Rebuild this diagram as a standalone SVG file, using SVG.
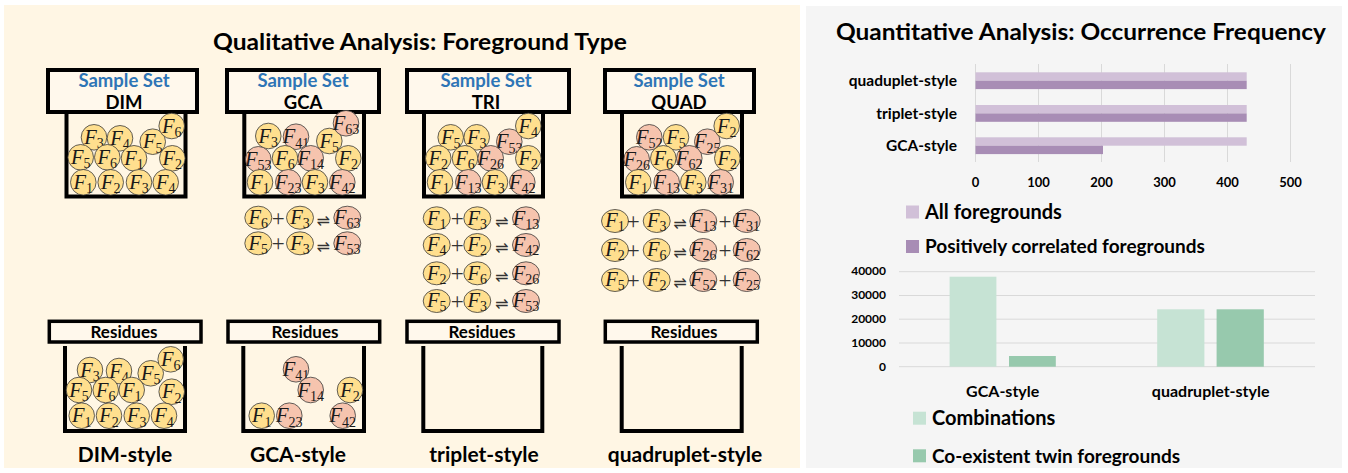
<svg xmlns="http://www.w3.org/2000/svg" width="1348" height="473" viewBox="0 0 1348 473">
  <style>
    .panelL { fill: #FFF6E4; }
    .panelR { fill: #F5F5F5; }
    .lid { fill: #FFF8EC; stroke: #000; stroke-width: 4; }
    .rlid { fill: #FFF8EC; stroke: #000; stroke-width: 3.5; }
    .bucket { fill: none; stroke: #000; stroke-width: 4; stroke-linejoin: miter; }
    .y { fill: #FFDF8E; stroke: #3a3a3a; stroke-width: 0.8; }
    .p { fill: #F6C4AE; stroke: #3a3a3a; stroke-width: 0.8; }
    .f { font-family: "Liberation Serif", "DejaVu Serif", serif; font-size: 20.5px; font-style: italic; text-anchor: middle; fill: #1a1a1a; }
    .s { font-size: 14px; font-style: normal; }
    .op { font-family: "Liberation Serif", serif; font-size: 23px; text-anchor: middle; fill: #333; }
    .rx { font-family: "DejaVu Sans", sans-serif; font-size: 16px; text-anchor: middle; fill: #333; }
    .t { font-family: Lato, "Liberation Sans", sans-serif; font-weight: bold; fill: #000; }
    .mid { text-anchor: middle; }
    .end { text-anchor: end; }
    .blue { fill: #2E75B6; }
    .grid { stroke: #D9D9D9; stroke-width: 1; }
    .pl { fill: #D1C0D8; }
    .pd { fill: #A88DB5; }
    .gl { fill: #C6E3D4; }
    .gd { fill: #97C9AD; }
  </style>

  <!-- panels -->
  <rect class="panelL" x="4" y="5" width="796" height="463"/>
  <rect class="panelR" x="806" y="6" width="536" height="462"/>

  <text class="t mid" x="420" y="50" font-size="22" textLength="414" lengthAdjust="spacingAndGlyphs">Qualitative Analysis: Foreground Type</text>

  <!-- ===== DIM sample set ===== -->
  <g id="dim-sample">
    <path class="bucket" d="M66.5 114 V196.5 H185.5 V114"/>
    <rect class="lid" x="48" y="70" width="149" height="42"/>
    <text class="t mid blue" x="124" y="87" font-size="18.5">Sample Set</text>
    <text class="t mid" x="124" y="108.5" font-size="18.5">DIM</text>
    <circle class="y" cx="94" cy="137.3" r="12.8"/><text class="f" x="94" y="143.8">F<tspan class="s" dy="4.5">3</tspan></text>
    <circle class="y" cx="120" cy="138.3" r="12.8"/><text class="f" x="120" y="144.8">F<tspan class="s" dy="4.5">4</tspan></text>
    <circle class="y" cx="152.7" cy="141.7" r="12.8"/><text class="f" x="152.7" y="148.2">F<tspan class="s" dy="4.5">5</tspan></text>
    <circle class="y" cx="171.7" cy="126" r="12.8"/><text class="f" x="171.7" y="132.5">F<tspan class="s" dy="4.5">6</tspan></text>
    <circle class="y" cx="80.7" cy="157.3" r="12.8"/><text class="f" x="80.7" y="163.8">F<tspan class="s" dy="4.5">5</tspan></text>
    <circle class="y" cx="107.3" cy="157.3" r="12.8"/><text class="f" x="107.3" y="163.8">F<tspan class="s" dy="4.5">6</tspan></text>
    <circle class="y" cx="134" cy="158.3" r="12.8"/><text class="f" x="134" y="164.8">F<tspan class="s" dy="4.5">1</tspan></text>
    <circle class="y" cx="172.3" cy="158.3" r="12.8"/><text class="f" x="172.3" y="164.8">F<tspan class="s" dy="4.5">2</tspan></text>
    <circle class="y" cx="83.3" cy="182.3" r="12.8"/><text class="f" x="83.3" y="188.8">F<tspan class="s" dy="4.5">1</tspan></text>
    <circle class="y" cx="110.7" cy="182.3" r="12.8"/><text class="f" x="110.7" y="188.8">F<tspan class="s" dy="4.5">2</tspan></text>
    <circle class="y" cx="139" cy="182.3" r="12.8"/><text class="f" x="139" y="188.8">F<tspan class="s" dy="4.5">3</tspan></text>
    <circle class="y" cx="165.7" cy="182.3" r="12.8"/><text class="f" x="165.7" y="188.8">F<tspan class="s" dy="4.5">4</tspan></text>
  </g>

  <!-- ===== GCA sample set ===== -->
  <g id="gca-sample">
    <path class="bucket" d="M244.3 114 V196.5 H364 V114"/>
    <rect class="lid" x="227" y="70" width="152" height="42"/>
    <text class="t mid blue" x="303" y="87" font-size="18.5">Sample Set</text>
    <text class="t mid" x="303" y="108.5" font-size="18.5">GCA</text>
    <circle class="y" cx="268.3" cy="136" r="12.8"/><text class="f" x="268.3" y="142.5">F<tspan class="s" dy="4.5">3</tspan></text>
    <circle class="p" cx="296" cy="136.7" r="12.8"/><text class="f" x="296" y="143.2">F<tspan class="s" dy="4.5">41</tspan></text>
    <circle class="y" cx="329.3" cy="141" r="12.8"/><text class="f" x="329.3" y="147.5">F<tspan class="s" dy="4.5">5</tspan></text>
    <circle class="p" cx="346" cy="123.3" r="12.8"/><text class="f" x="346" y="129.8">F<tspan class="s" dy="4.5">63</tspan></text>
    <circle class="p" cx="258.3" cy="159.3" r="12.8"/><text class="f" x="258.3" y="165.8">F<tspan class="s" dy="4.5">53</tspan></text>
    <circle class="y" cx="285" cy="158.3" r="12.8"/><text class="f" x="285" y="164.8">F<tspan class="s" dy="4.5">6</tspan></text>
    <circle class="p" cx="310.7" cy="158.3" r="12.8"/><text class="f" x="310.7" y="164.8">F<tspan class="s" dy="4.5">14</tspan></text>
    <circle class="y" cx="348.3" cy="158.3" r="12.8"/><text class="f" x="348.3" y="164.8">F<tspan class="s" dy="4.5">2</tspan></text>
    <circle class="y" cx="260" cy="182.3" r="12.8"/><text class="f" x="260" y="188.8">F<tspan class="s" dy="4.5">1</tspan></text>
    <circle class="p" cx="288.3" cy="182.3" r="12.8"/><text class="f" x="288.3" y="188.8">F<tspan class="s" dy="4.5">23</tspan></text>
    <circle class="y" cx="315" cy="182.3" r="12.8"/><text class="f" x="315" y="188.8">F<tspan class="s" dy="4.5">3</tspan></text>
    <circle class="p" cx="342.3" cy="182.3" r="12.8"/><text class="f" x="342.3" y="188.8">F<tspan class="s" dy="4.5">42</tspan></text>
  </g>

  <!-- ===== TRI sample set ===== -->
  <g id="tri-sample">
    <path class="bucket" d="M424 114 V196.5 H543 V114"/>
    <rect class="lid" x="407" y="70" width="162" height="42"/>
    <text class="t mid blue" x="486" y="87" font-size="18.5">Sample Set</text>
    <text class="t mid" x="486" y="108.5" font-size="18.5">TRI</text>
    <circle class="y" cx="450.7" cy="137.3" r="12.8"/><text class="f" x="450.7" y="143.8">F<tspan class="s" dy="4.5">5</tspan></text>
    <circle class="y" cx="476.7" cy="137.3" r="12.8"/><text class="f" x="476.7" y="143.8">F<tspan class="s" dy="4.5">3</tspan></text>
    <circle class="p" cx="509.3" cy="141.7" r="12.8"/><text class="f" x="509.3" y="148.2">F<tspan class="s" dy="4.5">53</tspan></text>
    <circle class="y" cx="528.3" cy="126" r="12.8"/><text class="f" x="528.3" y="132.5">F<tspan class="s" dy="4.5">4</tspan></text>
    <circle class="y" cx="438.3" cy="158.3" r="12.8"/><text class="f" x="438.3" y="164.8">F<tspan class="s" dy="4.5">2</tspan></text>
    <circle class="y" cx="465" cy="158.3" r="12.8"/><text class="f" x="465" y="164.8">F<tspan class="s" dy="4.5">6</tspan></text>
    <circle class="p" cx="490.7" cy="158.3" r="12.8"/><text class="f" x="490.7" y="164.8">F<tspan class="s" dy="4.5">26</tspan></text>
    <circle class="y" cx="528.3" cy="158.3" r="12.8"/><text class="f" x="528.3" y="164.8">F<tspan class="s" dy="4.5">2</tspan></text>
    <circle class="y" cx="440" cy="182.3" r="12.8"/><text class="f" x="440" y="188.8">F<tspan class="s" dy="4.5">1</tspan></text>
    <circle class="p" cx="468.3" cy="182.3" r="12.8"/><text class="f" x="468.3" y="188.8">F<tspan class="s" dy="4.5">13</tspan></text>
    <circle class="y" cx="495" cy="182.3" r="12.8"/><text class="f" x="495" y="188.8">F<tspan class="s" dy="4.5">3</tspan></text>
    <circle class="p" cx="522.3" cy="182.3" r="12.8"/><text class="f" x="522.3" y="188.8">F<tspan class="s" dy="4.5">42</tspan></text>
  </g>

  <!-- ===== QUAD sample set ===== -->
  <g id="quad-sample">
    <path class="bucket" d="M622 114 V196.5 H742 V114"/>
    <rect class="lid" x="605" y="70" width="149" height="42"/>
    <text class="t mid blue" x="679" y="87" font-size="18.5">Sample Set</text>
    <text class="t mid" x="679" y="108.5" font-size="18.5">QUAD</text>
    <circle class="p" cx="649.3" cy="137.3" r="12.8"/><text class="f" x="649.3" y="143.8">F<tspan class="s" dy="4.5">52</tspan></text>
    <circle class="y" cx="676" cy="137.3" r="12.8"/><text class="f" x="676" y="143.8">F<tspan class="s" dy="4.5">5</tspan></text>
    <circle class="p" cx="707.3" cy="141.7" r="12.8"/><text class="f" x="707.3" y="148.2">F<tspan class="s" dy="4.5">25</tspan></text>
    <circle class="y" cx="726.7" cy="126" r="12.8"/><text class="f" x="726.7" y="132.5">F<tspan class="s" dy="4.5">2</tspan></text>
    <circle class="p" cx="636.7" cy="159.3" r="12.8"/><text class="f" x="636.7" y="165.8">F<tspan class="s" dy="4.5">26</tspan></text>
    <circle class="y" cx="663.3" cy="158.3" r="12.8"/><text class="f" x="663.3" y="164.8">F<tspan class="s" dy="4.5">6</tspan></text>
    <circle class="p" cx="689.3" cy="158.3" r="12.8"/><text class="f" x="689.3" y="164.8">F<tspan class="s" dy="4.5">62</tspan></text>
    <circle class="y" cx="727.3" cy="158.3" r="12.8"/><text class="f" x="727.3" y="164.8">F<tspan class="s" dy="4.5">2</tspan></text>
    <circle class="y" cx="638.3" cy="182.3" r="12.8"/><text class="f" x="638.3" y="188.8">F<tspan class="s" dy="4.5">1</tspan></text>
    <circle class="p" cx="666.7" cy="182.3" r="12.8"/><text class="f" x="666.7" y="188.8">F<tspan class="s" dy="4.5">13</tspan></text>
    <circle class="y" cx="693.3" cy="182.3" r="12.8"/><text class="f" x="693.3" y="188.8">F<tspan class="s" dy="4.5">3</tspan></text>
    <circle class="p" cx="720.7" cy="182.3" r="12.8"/><text class="f" x="720.7" y="188.8">F<tspan class="s" dy="4.5">31</tspan></text>
  </g>

  <!-- ===== combination equations ===== -->
  <g id="gca-equations">
    <ellipse class="y" cx="258.3" cy="217.7" rx="13.5" ry="11.5"/><text class="f" x="258.3" y="224">F<tspan class="s" dy="4">6</tspan></text>
    <text class="op" x="278.3" y="225.5">+</text>
    <ellipse class="y" cx="300" cy="217.7" rx="13.5" ry="11.5"/><text class="f" x="300" y="224">F<tspan class="s" dy="4">3</tspan></text>
    <text class="rx" x="323.3" y="226">⇌</text>
    <ellipse class="p" cx="347.3" cy="217.7" rx="13.5" ry="11.5"/><text class="f" x="347.3" y="224">F<tspan class="s" dy="4">63</tspan></text>

    <ellipse class="y" cx="258.3" cy="243.3" rx="13.5" ry="11.5"/><text class="f" x="258.3" y="249.6">F<tspan class="s" dy="4">5</tspan></text>
    <text class="op" x="278.3" y="251.1">+</text>
    <ellipse class="y" cx="300" cy="243.3" rx="13.5" ry="11.5"/><text class="f" x="300" y="249.6">F<tspan class="s" dy="4">3</tspan></text>
    <text class="rx" x="323.3" y="251.6">⇌</text>
    <ellipse class="p" cx="347.3" cy="243.3" rx="13.5" ry="11.5"/><text class="f" x="347.3" y="249.6">F<tspan class="s" dy="4">53</tspan></text>
  </g>

  <g id="tri-equations">
    <ellipse class="y" cx="436.7" cy="218.3" rx="13.5" ry="11.5"/><text class="f" x="436.7" y="224.6">F<tspan class="s" dy="4">1</tspan></text>
    <text class="op" x="457.3" y="226.1">+</text>
    <ellipse class="y" cx="477.3" cy="218.3" rx="13.5" ry="11.5"/><text class="f" x="477.3" y="224.6">F<tspan class="s" dy="4">3</tspan></text>
    <text class="rx" x="501.7" y="226.6">⇌</text>
    <ellipse class="p" cx="526" cy="218.3" rx="13.5" ry="11.5"/><text class="f" x="526" y="224.6">F<tspan class="s" dy="4">13</tspan></text>

    <ellipse class="y" cx="436.7" cy="245" rx="13.5" ry="11.5"/><text class="f" x="436.7" y="251.3">F<tspan class="s" dy="4">4</tspan></text>
    <text class="op" x="457.3" y="252.8">+</text>
    <ellipse class="y" cx="477.3" cy="245" rx="13.5" ry="11.5"/><text class="f" x="477.3" y="251.3">F<tspan class="s" dy="4">2</tspan></text>
    <text class="rx" x="501.7" y="253.3">⇌</text>
    <ellipse class="p" cx="526" cy="245" rx="13.5" ry="11.5"/><text class="f" x="526" y="251.3">F<tspan class="s" dy="4">42</tspan></text>

    <ellipse class="y" cx="436.7" cy="273.3" rx="13.5" ry="11.5"/><text class="f" x="436.7" y="279.6">F<tspan class="s" dy="4">2</tspan></text>
    <text class="op" x="457.3" y="281.1">+</text>
    <ellipse class="y" cx="477.3" cy="273.3" rx="13.5" ry="11.5"/><text class="f" x="477.3" y="279.6">F<tspan class="s" dy="4">6</tspan></text>
    <text class="rx" x="501.7" y="281.6">⇌</text>
    <ellipse class="p" cx="526" cy="273.3" rx="13.5" ry="11.5"/><text class="f" x="526" y="279.6">F<tspan class="s" dy="4">26</tspan></text>

    <ellipse class="y" cx="436.7" cy="301" rx="13.5" ry="11.5"/><text class="f" x="436.7" y="307.3">F<tspan class="s" dy="4">5</tspan></text>
    <text class="op" x="457.3" y="308.8">+</text>
    <ellipse class="y" cx="477.3" cy="301" rx="13.5" ry="11.5"/><text class="f" x="477.3" y="307.3">F<tspan class="s" dy="4">3</tspan></text>
    <text class="rx" x="501.7" y="309.3">⇌</text>
    <ellipse class="p" cx="526" cy="301" rx="13.5" ry="11.5"/><text class="f" x="526" y="307.3">F<tspan class="s" dy="4">53</tspan></text>
  </g>

  <g id="quad-equations">
    <ellipse class="y" cx="615" cy="221" rx="13.5" ry="11.5"/><text class="f" x="615" y="227.3">F<tspan class="s" dy="4">1</tspan></text>
    <text class="op" x="633.3" y="228.8">+</text>
    <ellipse class="y" cx="656.7" cy="221" rx="13.5" ry="11.5"/><text class="f" x="656.7" y="227.3">F<tspan class="s" dy="4">3</tspan></text>
    <text class="rx" x="680" y="229.3">⇌</text>
    <ellipse class="p" cx="703.3" cy="221" rx="13.5" ry="11.5"/><text class="f" x="703.3" y="227.3">F<tspan class="s" dy="4">13</tspan></text>
    <text class="op" x="725" y="228.8">+</text>
    <ellipse class="p" cx="746.7" cy="221" rx="13.5" ry="11.5"/><text class="f" x="746.7" y="227.3">F<tspan class="s" dy="4">31</tspan></text>

    <ellipse class="y" cx="615" cy="250" rx="13.5" ry="11.5"/><text class="f" x="615" y="256.3">F<tspan class="s" dy="4">2</tspan></text>
    <text class="op" x="633.3" y="257.8">+</text>
    <ellipse class="y" cx="656.7" cy="250" rx="13.5" ry="11.5"/><text class="f" x="656.7" y="256.3">F<tspan class="s" dy="4">6</tspan></text>
    <text class="rx" x="680" y="258.3">⇌</text>
    <ellipse class="p" cx="703.3" cy="250" rx="13.5" ry="11.5"/><text class="f" x="703.3" y="256.3">F<tspan class="s" dy="4">26</tspan></text>
    <text class="op" x="725" y="257.8">+</text>
    <ellipse class="p" cx="746.7" cy="250" rx="13.5" ry="11.5"/><text class="f" x="746.7" y="256.3">F<tspan class="s" dy="4">62</tspan></text>

    <ellipse class="y" cx="615" cy="280" rx="13.5" ry="11.5"/><text class="f" x="615" y="286.3">F<tspan class="s" dy="4">5</tspan></text>
    <text class="op" x="633.3" y="287.8">+</text>
    <ellipse class="y" cx="656.7" cy="280" rx="13.5" ry="11.5"/><text class="f" x="656.7" y="286.3">F<tspan class="s" dy="4">2</tspan></text>
    <text class="rx" x="680" y="288.3">⇌</text>
    <ellipse class="p" cx="703.3" cy="280" rx="13.5" ry="11.5"/><text class="f" x="703.3" y="286.3">F<tspan class="s" dy="4">52</tspan></text>
    <text class="op" x="725" y="287.8">+</text>
    <ellipse class="p" cx="746.7" cy="280" rx="13.5" ry="11.5"/><text class="f" x="746.7" y="286.3">F<tspan class="s" dy="4">25</tspan></text>
  </g>

  <!-- ===== residues ===== -->
  <g id="dim-residues">
    <path class="bucket" d="M65 346 V431 H185 V346"/>
    <rect class="rlid" x="49.3" y="321.3" width="151.7" height="20.7"/>
    <text class="t mid" x="124" y="337.5" font-size="17">Residues</text>
    <circle class="y" cx="90" cy="370" r="12.8"/><text class="f" x="90" y="376.5">F<tspan class="s" dy="4.5">3</tspan></text>
    <circle class="y" cx="119" cy="371" r="12.8"/><text class="f" x="119" y="377.5">F<tspan class="s" dy="4.5">4</tspan></text>
    <circle class="y" cx="150.7" cy="373.3" r="12.8"/><text class="f" x="150.7" y="379.8">F<tspan class="s" dy="4.5">5</tspan></text>
    <circle class="y" cx="170.7" cy="359.3" r="12.8"/><text class="f" x="170.7" y="365.8">F<tspan class="s" dy="4.5">6</tspan></text>
    <circle class="y" cx="79" cy="390" r="12.8"/><text class="f" x="79" y="396.5">F<tspan class="s" dy="4.5">5</tspan></text>
    <circle class="y" cx="105.7" cy="390" r="12.8"/><text class="f" x="105.7" y="396.5">F<tspan class="s" dy="4.5">6</tspan></text>
    <circle class="y" cx="131.7" cy="390" r="12.8"/><text class="f" x="131.7" y="396.5">F<tspan class="s" dy="4.5">1</tspan></text>
    <circle class="y" cx="171.7" cy="391.7" r="12.8"/><text class="f" x="171.7" y="398.2">F<tspan class="s" dy="4.5">2</tspan></text>
    <circle class="y" cx="81.7" cy="415.7" r="12.8"/><text class="f" x="81.7" y="422.2">F<tspan class="s" dy="4.5">1</tspan></text>
    <circle class="y" cx="109" cy="415.7" r="12.8"/><text class="f" x="109" y="422.2">F<tspan class="s" dy="4.5">2</tspan></text>
    <circle class="y" cx="136.7" cy="415.7" r="12.8"/><text class="f" x="136.7" y="422.2">F<tspan class="s" dy="4.5">3</tspan></text>
    <circle class="y" cx="164" cy="415.7" r="12.8"/><text class="f" x="164" y="422.2">F<tspan class="s" dy="4.5">4</tspan></text>
    <text class="t mid" x="125" y="462" font-size="21">DIM-style</text>
  </g>

  <g id="gca-residues">
    <path class="bucket" d="M243.3 346 V431 H364 V346"/>
    <rect class="rlid" x="228" y="321.3" width="151.7" height="20.7"/>
    <text class="t mid" x="305" y="337.5" font-size="17">Residues</text>
    <circle class="p" cx="296" cy="369.3" r="12.8"/><text class="f" x="296" y="375.8">F<tspan class="s" dy="4.5">41</tspan></text>
    <circle class="p" cx="310.7" cy="390" r="12.8"/><text class="f" x="310.7" y="396.5">F<tspan class="s" dy="4.5">14</tspan></text>
    <circle class="y" cx="350" cy="390" r="12.8"/><text class="f" x="350" y="396.5">F<tspan class="s" dy="4.5">2</tspan></text>
    <circle class="y" cx="261.7" cy="415.7" r="12.8"/><text class="f" x="261.7" y="422.2">F<tspan class="s" dy="4.5">1</tspan></text>
    <circle class="p" cx="289.3" cy="415.7" r="12.8"/><text class="f" x="289.3" y="422.2">F<tspan class="s" dy="4.5">23</tspan></text>
    <circle class="p" cx="342.7" cy="415.7" r="12.8"/><text class="f" x="342.7" y="422.2">F<tspan class="s" dy="4.5">42</tspan></text>
    <text class="t mid" x="298" y="462" font-size="21">GCA-style</text>
  </g>

  <g id="tri-residues">
    <path class="bucket" d="M423.3 346 V431 H542.3 V346"/>
    <rect class="rlid" x="407" y="321.3" width="152" height="20.7"/>
    <text class="t mid" x="482" y="337.5" font-size="17">Residues</text>
    <text class="t mid" x="484" y="462" font-size="21">triplet-style</text>
  </g>

  <g id="quad-residues">
    <path class="bucket" d="M621.7 346 V431 H741.7 V346"/>
    <rect class="rlid" x="605.3" y="321.3" width="152" height="20.7"/>
    <text class="t mid" x="684" y="337.5" font-size="17">Residues</text>
    <text class="t mid" x="685" y="462" font-size="21">quadruplet-style</text>
  </g>

  <!-- ===== occurrence frequency charts ===== -->
  <text class="t mid" x="1081" y="40" font-size="22" textLength="490" lengthAdjust="spacingAndGlyphs">Quantitative Analysis: Occurrence Frequency</text>

  <g id="chart-foregrounds">
    <g class="grid">
      <line x1="975.5" y1="64" x2="975.5" y2="162"/>
      <line x1="1038.5" y1="64" x2="1038.5" y2="162"/>
      <line x1="1101.5" y1="64" x2="1101.5" y2="162"/>
      <line x1="1164.5" y1="64" x2="1164.5" y2="162"/>
      <line x1="1227.5" y1="64" x2="1227.5" y2="162"/>
      <line x1="1290.5" y1="64" x2="1290.5" y2="162"/>
    </g>
    <rect class="pl" x="975.5" y="72.3" width="271.2" height="8.4"/>
    <rect class="pd" x="975.5" y="80.7" width="271.2" height="8.4"/>
    <rect class="pl" x="975.5" y="105" width="271.2" height="8.4"/>
    <rect class="pd" x="975.5" y="113.4" width="271.2" height="8.4"/>
    <rect class="pl" x="975.5" y="137.3" width="271.2" height="8.4"/>
    <rect class="pd" x="975.5" y="145.7" width="127.5" height="8.4"/>
    <text class="t end" x="957" y="86" font-size="15.5">quaduplet-style</text>
    <text class="t end" x="957" y="118.6" font-size="15.5">triplet-style</text>
    <text class="t end" x="957" y="151" font-size="15.5">GCA-style</text>
    <g class="t mid" font-size="13">
      <text x="975.5" y="186.5">0</text>
      <text x="1038.5" y="186.5">100</text>
      <text x="1101.5" y="186.5">200</text>
      <text x="1164.5" y="186.5">300</text>
      <text x="1227.5" y="186.5">400</text>
      <text x="1290.5" y="186.5">500</text>
    </g>
    <rect class="pl" x="906" y="205.5" width="13" height="13"/>
    <text class="t" x="925" y="218.5" font-size="20">All foregrounds</text>
    <rect class="pd" x="906" y="240" width="13" height="13"/>
    <text class="t" x="925" y="253" font-size="19">Positively correlated foregrounds</text>
  </g>

  <g id="chart-combinations">
    <g class="grid">
      <line x1="899" y1="271.7" x2="1315" y2="271.7"/>
      <line x1="899" y1="295.5" x2="1315" y2="295.5"/>
      <line x1="899" y1="319.2" x2="1315" y2="319.2"/>
      <line x1="899" y1="343" x2="1315" y2="343"/>
      <line x1="899" y1="366.7" x2="1315" y2="366.7"/>
    </g>
    <g class="t end" font-size="12">
      <text x="886" y="275">40000</text>
      <text x="886" y="299">30000</text>
      <text x="886" y="323">20000</text>
      <text x="886" y="347">10000</text>
      <text x="886" y="371">0</text>
    </g>
    <rect class="gl" x="949.6" y="276.7" width="46.8" height="90"/>
    <rect class="gd" x="1009" y="356" width="46.8" height="10.7"/>
    <rect class="gl" x="1157.2" y="309.3" width="47.2" height="57.4"/>
    <rect class="gd" x="1216.6" y="309.3" width="47.2" height="57.4"/>
    <text class="t mid" x="1002.7" y="397" font-size="16">GCA-style</text>
    <text class="t mid" x="1210.7" y="397" font-size="16">quadruplet-style</text>
    <rect class="gl" x="913" y="411.7" width="13" height="13"/>
    <text class="t" x="932" y="425" font-size="20">Combinations</text>
    <rect class="gd" x="913" y="449.3" width="13" height="13"/>
    <text class="t" x="932" y="462.5" font-size="19">Co-existent twin foregrounds</text>
  </g>
</svg>
